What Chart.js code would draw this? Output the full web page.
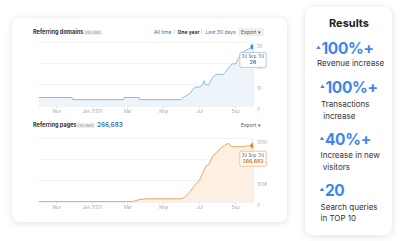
<!DOCTYPE html>
<html>
<head>
<meta charset="utf-8">
<script src="https://cdn.jsdelivr.net/npm/chart.js@4.4.0/dist/chart.umd.min.js"></script>
<style>
  body { margin: 0; width: 400px; height: 241px; background: #fff; font-family: Inter, "Noto Sans", sans-serif; position: relative; overflow: hidden; }
  .abs { position: absolute; white-space: nowrap; }
  .card { position: absolute; background: #fff; box-shadow: 0 1px 7px rgba(0,0,0,0.13); }
  .title { font-size: 5.6px; font-weight: 700; color: #333; }
  .badge { font-size: 2.8px; color: #888; background: #eee; border-radius: 1px; padding: 0.6px 1.5px; letter-spacing: 0.1px; }
  .tab { font-size: 5px; color: #3b74ad; }
  .sep { position: absolute; width: 0.6px; height: 5px; background: #ddd; }
  .big { font-size: 15.5px; font-weight: 700; color: #3d85f0; letter-spacing: -0.3px; }
  .big span { font-size: 4.5px; vertical-align: 5px; margin-right: 1px; }
  .desc { font-size: 8px; color: #333; line-height: 11.5px; }
  canvas { position: absolute; }
</style>
</head>
<body>
<div class="card" style="left:12px;top:18px;width:275px;height:204px;border-radius:7px;"></div>
<div class="card" style="left:305px;top:7px;width:87px;height:228px;border-radius:8px;"></div>

<div class="abs title" style="left:33px;top:28.5px;">Referring domains <span style="font-weight:400;color:#aaa;font-size:3.5px;vertical-align:2px;">i</span></div>
<div class="abs badge" style="left:83px;top:30px;">LIVE LINKS</div>
<div class="abs tab" style="left:154px;top:28.5px;">All time</div>
<div class="sep" style="left:174px;top:29px;"></div>
<div class="abs tab" style="left:177.5px;top:28.5px;color:#333;font-weight:700;">One year</div>
<div class="sep" style="left:201px;top:29px;"></div>
<div class="abs tab" style="left:205.5px;top:28.5px;">Last 30 days</div>
<div class="abs tab" style="left:238px;top:27.5px;color:#555;background:#f0f0f0;padding:1px 3px;border-radius:1px;">Export ▾</div>

<div class="abs title" style="left:33px;top:121.5px;">Referring pages <span style="font-weight:400;color:#aaa;font-size:3.5px;vertical-align:2px;">i</span></div>
<div class="abs badge" style="left:76px;top:123px;">LIVE LINKS</div>
<div class="abs" style="left:97px;top:121px;font-size:6.3px;font-weight:600;color:#3b74ad;">266,683</div>
<div class="abs tab" style="left:241px;top:121.5px;color:#555;">Export ▾</div>

<canvas id="domainsChart" width="234" height="78" style="left:33px;top:36px;"></canvas>
<canvas id="pagesChart" width="234" height="78" style="left:33px;top:132px;"></canvas>

<div class="abs" style="left:329px;top:16px;font-size:11px;font-weight:700;color:#222;">Results</div>
<div class="abs big" style="left:316px;top:39px;"><span>▲</span>100%+</div>
<div class="abs desc" style="left:317px;top:57.5px;">Revenue increase</div>
<div class="abs big" style="left:320px;top:78px;"><span>▲</span>100%+</div>
<div class="abs desc" style="left:321px;top:99px;">Transactions<br>&nbsp;increase</div>
<div class="abs big" style="left:319.5px;top:130px;"><span>▲</span>40%+</div>
<div class="abs desc" style="left:320.5px;top:150px;">Increase in new<br>&nbsp;visitors</div>
<div class="abs big" style="left:319.5px;top:181px;"><span>▲</span>20</div>
<div class="abs desc" style="left:320.5px;top:201.5px;">Search queries<br>in TOP 10</div>

<script>
// x axis month ticks
const tickDates = ['2019-11-01', '2020-01-01', '2020-03-01', '2020-05-01', '2020-07-01', '2020-09-01'];
const tickLabels = ['Nov', 'Jan 2020', 'Mar', 'May', 'Jul', 'Sep'];

// referring domains (live links)
const domainDates = ['2019-10-01', '2019-11-27', '2019-11-28', '2020-02-23', '2020-02-24', '2020-03-20', '2020-03-21',
  '2020-05-30', '2020-06-03', '2020-06-09', '2020-06-15', '2020-06-20', '2020-06-25', '2020-07-01', '2020-07-06',
  '2020-07-09', '2020-07-11', '2020-07-17', '2020-07-20', '2020-07-25', '2020-07-30', '2020-08-10', '2020-08-14',
  '2020-08-19', '2020-08-26', '2020-09-01', '2020-09-04', '2020-09-08', '2020-09-15', '2020-09-22', '2020-09-30'];
const domainValues = [4, 4, 3, 3, 4, 4, 3,
  3, 4, 5, 6, 8, 9, 9, 10,
  12, 10, 10, 12, 14, 15, 15, 16,
  18, 20, 20, 22, 24, 26, 27, 28];
const domainTicks = [0, 10, 20, 30];

// referring pages (live links)
const pageDates = ['2019-10-01', '2020-03-09', '2020-03-21', '2020-04-02', '2020-05-31', '2020-06-07', '2020-06-15',
  '2020-06-23', '2020-07-01', '2020-07-07', '2020-07-12', '2020-07-17', '2020-07-23', '2020-07-30', '2020-08-06',
  '2020-08-14', '2020-08-20', '2020-08-24', '2020-09-15', '2020-09-21', '2020-09-30'];
const pageValues = [2000, 2000, 12000, 15000, 15000, 25000, 50000,
  80000, 105000, 140000, 170000, 180000, 215000, 235000, 255000,
  272000, 278000, 262000, 262000, 266683, 266683];
const pageTicks = [0, 100000, 200000, 300000];

const startDay = Date.UTC(2019, 9, 1);
function dayIndex(s) {
  const p = s.split('-').map(Number);
  return (Date.UTC(p[0], p[1] - 1, p[2]) - startDay) / 86400000;
}
const months = ['Jan','Feb','Mar','Apr','May','Jun','Jul','Aug','Sep','Oct','Nov','Dec'];
function niceDate(s) {
  const p = s.split('-').map(Number);
  return p[2] + ' ' + months[p[1] - 1] + " '" + String(p[0]).slice(2);
}

const hoverLine = {
  id: 'hoverLine',
  beforeDatasetsDraw(chart) {
    const pts = chart.getDatasetMeta(0).data;
    const pt = pts[pts.length - 1];
    const c = chart.ctx;
    c.save();
    c.strokeStyle = '#d6d6d6';
    c.lineWidth = 0.8;
    c.beginPath();
    c.moveTo(pt.x, chart.chartArea.top);
    c.lineTo(pt.x, chart.chartArea.bottom);
    c.stroke();
    c.restore();
  }
};

function makeChart(id, dates, values, yTicks, yMax, colors, fmtTick) {
  const last = values.length - 1;
  const chart = new Chart(document.getElementById(id), {
    type: 'line',
    data: {
      datasets: [{
        data: dates.map((d, i) => ({ x: dayIndex(d), y: values[i] })),
        borderColor: colors.line,
        backgroundColor: colors.fill,
        fill: 'origin',
        borderWidth: 1,
        tension: 0,
        pointRadius: ctx => ctx.dataIndex === last ? 2.4 : 0,
        pointBackgroundColor: colors.dot,
        pointBorderColor: colors.halo,
        pointBorderWidth: 1.5
      }]
    },
    options: {
      responsive: false,
      animation: false,
      events: [],
      layout: { padding: { top: 2, left: 0, right: 0, bottom: 0 } },
      plugins: {
        legend: { display: false },
        tooltip: {
          backgroundColor: '#fff',
          borderColor: colors.border,
          borderWidth: 0.8,
          titleColor: '#666',
          titleFont: { family: 'Inter', size: 4.3, weight: 'normal' },
          bodyColor: colors.text,
          bodyFont: { family: 'Inter', size: 5, weight: 'bold' },
          displayColors: false,
          xAlign: 'center',
          yAlign: 'top',
          caretSize: 0,
          caretPadding: 5.5,
          cornerRadius: 1,
          padding: { x: 2, y: 1.5 },
          titleMarginBottom: 0.8,
          titleAlign: 'center',
          bodyAlign: 'center',
          callbacks: {
            title: items => niceDate(dates[items[0].dataIndex]),
            label: item => item.parsed.y.toLocaleString('en-US')
          }
        }
      },
      scales: {
        x: {
          type: 'linear',
          min: 0,
          max: dayIndex('2020-09-30'),
          afterBuildTicks: s => { s.ticks = tickDates.map(d => ({ value: dayIndex(d) })); },
          afterFit: s => { s.height = 8; },
          ticks: {
            font: { family: 'Inter', size: 4.5 },
            color: '#aaa',
            padding: 1,
            maxRotation: 0,
            autoSkip: false,
            callback: v => tickLabels[tickDates.findIndex(d => dayIndex(d) === v)]
          },
          grid: { drawOnChartArea: false, drawTicks: true, tickLength: 2, color: '#ddd' },
          border: { display: false }
        },
        y: {
          position: 'right',
          min: 0,
          max: yMax,
          afterBuildTicks: s => { s.ticks = yTicks.map(v => ({ value: v })); },
          afterFit: s => { s.width = 14; },
          ticks: {
            font: { family: 'Inter', size: 4.5 },
            color: '#aaa',
            padding: 4,
            labelOffset: 4,
            callback: fmtTick
          },
          grid: { color: '#ececec', lineWidth: 0.7, drawTicks: false },
          border: { display: false }
        }
      }
    },
    plugins: [hoverLine]
  });
  chart.tooltip.setActiveElements([{ datasetIndex: 0, index: last }], { x: 0, y: 0 });
  chart.update();
  return chart;
}

makeChart('domainsChart', domainDates, domainValues, domainTicks, 30,
  { line: '#8dbdd8', fill: '#eef5fa', dot: '#3d8ee6', halo: 'rgba(61,142,230,0.3)', border: '#9cc4df', text: '#3b74ad' },
  v => String(v));

makeChart('pagesChart', pageDates, pageValues, pageTicks, 300000,
  { line: '#e8a862', fill: '#fdf0e3', dot: '#f07d1c', halo: 'rgba(240,125,28,0.3)', border: '#eab57f', text: '#e07b22' },
  v => v === 0 ? '0' : (v / 1000) + 'K');
</script>
</body>
</html>
